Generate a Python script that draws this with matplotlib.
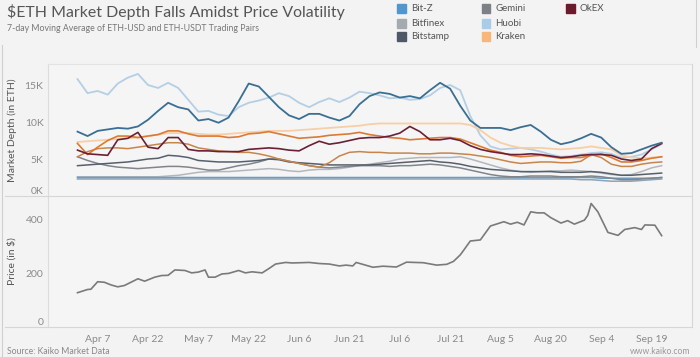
import matplotlib
matplotlib.use("Agg")
import matplotlib.pyplot as plt
import pandas as pd
from matplotlib.lines import Line2D
from matplotlib.patches import Rectangle

plt.rcParams["font.family"] = ["Lato", "DejaVu Sans"]

# ── data ─────────────────────────────────────────────────────────────────────
depth_dates = pd.date_range("2020-04-01", "2020-09-22", freq="3D")

huobi = [15.8, 13.9, 14.2, 13.7, 15.2, 16.0, 16.5, 15.0, 14.6, 15.3, 14.6, 13.0, 11.4, 11.5, 11.0,
         10.8, 12.0, 12.6, 12.9, 13.3, 13.9, 13.5, 12.6, 12.0, 12.7, 13.2, 12.7, 13.3, 14.1, 13.9,
         13.6, 13.2, 13.3, 13.0, 13.1, 13.6, 14.6, 15.0, 14.3, 10.8, 8.2, 6.7, 6.3, 6.4, 6.5,
         6.3, 6.0, 5.6, 5.3, 5.4, 5.6, 5.8, 5.9, 5.7, 5.2, 5.3, 5.6, 6.3, 7.0]
dark_blue = [8.7, 8.1, 8.8, 9.0, 9.2, 9.1, 9.4, 10.3, 11.5, 12.6, 12.0, 11.7, 10.2, 10.4, 9.9,
             10.6, 12.8, 15.2, 14.8, 13.4, 12.0, 10.9, 10.4, 11.1, 11.1, 10.6, 10.2, 10.8, 12.4, 13.5,
             14.0, 13.8, 13.3, 13.5, 13.2, 14.3, 15.3, 14.5, 12.2, 10.2, 9.2, 9.2, 9.2, 8.9, 9.3,
             9.6, 8.7, 7.6, 7.0, 7.3, 7.8, 8.4, 7.9, 6.6, 5.7, 5.8, 6.3, 6.8, 7.2]
kraken_light = [7.3, 7.4, 7.5, 7.6, 7.7, 7.8, 7.9, 8.1, 8.3, 8.5, 8.5, 8.5, 8.4, 8.3, 8.3,
                8.4, 8.5, 8.6, 8.7, 8.8, 8.8, 8.8, 8.9, 9.0, 9.1, 9.2, 9.3, 9.4, 9.5, 9.7,
                9.8, 9.8, 9.8, 9.8, 9.8, 9.8, 9.8, 9.8, 9.8, 9.6, 8.9, 7.9, 7.2, 6.8, 6.5,
                6.5, 6.5, 6.4, 6.3, 6.4, 6.5, 6.7, 6.5, 6.3, 5.5, 5.2, 5.1, 5.2, 5.3]
kraken = [7.1, 5.6, 6.6, 7.5, 8.1, 8.1, 7.9, 8.1, 8.3, 8.8, 8.8, 8.4, 8.1, 8.1, 8.1,
          7.9, 8.0, 8.4, 8.5, 8.7, 8.4, 8.1, 7.8, 7.9, 8.0, 8.2, 8.3, 8.4, 8.6, 8.3,
          8.1, 7.9, 7.8, 7.6, 7.7, 7.8, 7.9, 7.9, 7.7, 7.2, 6.7, 6.2, 5.9, 5.5, 5.3,
          5.4, 5.5, 5.3, 5.1, 5.2, 5.2, 5.5, 5.7, 5.2, 4.6, 4.6, 4.8, 5.1, 5.3]
okex = [6.2, 5.7, 5.6, 5.5, 7.6, 7.8, 8.6, 6.6, 6.4, 7.9, 7.9, 6.3, 6.1, 6.1, 6.0,
        6.0, 6.0, 6.3, 6.4, 6.5, 6.4, 6.2, 6.1, 6.8, 7.4, 7.0, 7.2, 7.5, 7.8, 7.9,
        7.9, 8.1, 8.5, 9.4, 8.7, 7.6, 7.6, 7.8, 7.5, 6.8, 6.3, 6.0, 5.8, 5.6, 5.6,
        5.7, 5.6, 5.4, 5.2, 5.3, 5.5, 5.6, 5.6, 5.5, 5.0, 4.8, 5.0, 6.4, 7.1]
kraken_usdt = [5.3, 6.0, 6.4, 6.5, 6.5, 6.4, 6.6, 6.8, 7.0, 7.2, 7.2, 7.0, 6.5, 6.3, 6.1,
               6.0, 5.9, 5.9, 5.7, 5.4, 5.0, 4.7, 4.4, 4.1, 3.9, 4.5, 5.4, 5.9, 6.0, 5.9,
               5.9, 5.8, 5.8, 5.8, 5.7, 5.7, 5.8, 5.8, 5.7, 5.6, 5.4, 5.2, 4.9, 4.6, 4.4,
               4.5, 4.6, 4.6, 4.5, 4.5, 4.7, 5.6, 5.2, 4.3, 4.0, 4.0, 4.3, 4.5, 4.6]
bitstamp = [4.1, 4.2, 4.3, 4.4, 4.5, 4.6, 4.8, 5.0, 5.1, 5.5, 5.4, 5.2, 4.8, 4.7, 4.6,
            4.6, 4.6, 4.7, 4.8, 5.0, 4.9, 4.6, 4.5, 4.4, 4.3, 4.2, 4.2, 4.2, 4.2, 4.2,
            4.3, 4.4, 4.5, 4.6, 4.7, 4.8, 4.6, 4.5, 4.3, 4.0, 3.8, 3.6, 3.5, 3.4, 3.3,
            3.3, 3.3, 3.3, 3.2, 3.2, 3.2, 3.3, 3.2, 3.0, 2.8, 2.8, 2.9, 3.0, 3.1]
gemini = [5.3, 4.8, 4.4, 4.1, 3.9, 3.8, 3.7, 3.8, 3.9, 4.0, 4.0, 3.9, 3.7, 3.5, 3.5,
          3.8, 4.1, 4.3, 4.6, 5.0, 5.0, 4.7, 4.4, 4.1, 3.9, 3.8, 3.9, 4.0, 4.1, 4.1,
          4.1, 4.0, 4.1, 4.1, 4.2, 4.3, 4.2, 4.0, 3.8, 3.5, 3.2, 2.9, 2.7, 2.6, 2.6,
          2.7, 2.7, 2.7, 2.6, 2.6, 2.6, 2.7, 2.6, 2.4, 2.2, 2.2, 2.3, 2.4, 2.5]
bitfinex = [2.6, 2.6, 2.6, 2.6, 2.6, 2.6, 2.6, 2.6, 2.6, 2.7, 2.8, 3.0, 3.2, 3.3, 3.3,
            3.3, 3.4, 3.5, 3.6, 3.7, 3.6, 3.4, 3.3, 3.5, 3.6, 3.6, 3.7, 3.9, 4.1, 4.3,
            4.5, 4.7, 5.0, 5.1, 5.2, 5.2, 5.2, 5.2, 5.3, 5.0, 4.6, 4.2, 3.8, 3.5, 3.3,
            3.2, 3.3, 3.4, 3.4, 3.5, 3.4, 3.3, 3.1, 2.9, 2.8, 2.9, 3.3, 3.8, 4.1]
bitz = [2.5, 2.5, 2.5, 2.5, 2.5, 2.5, 2.5, 2.5, 2.5, 2.5, 2.5, 2.5, 2.5, 2.5, 2.5,
        2.5, 2.5, 2.5, 2.5, 2.5, 2.5, 2.5, 2.5, 2.5, 2.5, 2.5, 2.5, 2.5, 2.5, 2.5,
        2.5, 2.5, 2.5, 2.5, 2.5, 2.5, 2.5, 2.5, 2.5, 2.5, 2.5, 2.5, 2.5, 2.5, 2.5,
        2.5, 2.5, 2.5, 2.5, 2.5, 2.5, 2.5, 2.4, 2.4, 2.4, 2.4, 2.4, 2.4, 2.5]
bitz_usdt = [2.3, 2.3, 2.3, 2.3, 2.3, 2.3, 2.3, 2.3, 2.3, 2.3, 2.3, 2.3, 2.3, 2.3, 2.3,
             2.3, 2.3, 2.3, 2.3, 2.3, 2.3, 2.3, 2.3, 2.3, 2.3, 2.3, 2.3, 2.3, 2.3, 2.3,
             2.3, 2.3, 2.3, 2.3, 2.3, 2.3, 2.3, 2.3, 2.3, 2.3, 2.3, 2.3, 2.3, 2.3, 2.3,
             2.3, 2.3, 2.3, 2.3, 2.3, 2.2, 2.2, 2.1, 2.0, 2.0, 2.0, 2.1, 2.2, 2.3]

# price, 7-day MA (day offset from Apr 1, USD)
price_day = [0, 3, 4, 6, 8, 10, 12, 14, 18, 20, 23, 25, 27, 29, 32, 34, 36, 38, 39, 41, 43, 45,
             48, 50, 52, 55, 57, 59, 62, 64, 69, 72, 75, 78, 80, 82, 83, 88, 91, 95, 98, 103,
             107, 110, 112, 114, 115, 117, 120, 123, 127, 129, 131, 133, 135, 137, 139, 141,
             144, 146, 148, 151, 152, 153, 155, 158, 161, 163, 166, 168, 169, 172, 174]
price = [128, 140, 141, 169, 167, 157, 150, 155, 180, 171, 186, 192, 193, 213, 211, 202, 205,
         213, 186, 186, 198, 200, 211, 202, 206, 202, 218, 235, 241, 239, 241, 237, 235, 228,
         231, 228, 241, 223, 227, 224, 242, 240, 231, 234, 245, 269, 286, 321, 325, 377, 393,
         384, 391, 381, 430, 426, 426, 408, 388, 397, 384, 399, 417, 461, 430, 353, 342, 364,
         371, 364, 381, 380, 341]

x_ticks = pd.date_range("2020-04-07", periods=12, freq="15D")

legend_names = ["Bit-Z", "Bitfinex", "Bitstamp", "Gemini", "Huobi", "Kraken", "OkEX"]
legend_colors = ["#4f97ce", "#a5aab0", "#4f5866", "#7d8187", "#a9cde9", "#f8b77a", "#6a1a2a"]

# ── figure ───────────────────────────────────────────────────────────────────
BG = "#f3f3f3"
fig = plt.figure(figsize=(7.0, 3.57), dpi=100, facecolor=BG)
W, H = 700, 357


def fx(px):
    return px / W


def fy(py):
    return 1 - py / H


ax1 = fig.add_axes([fx(47.7), fy(196), fx(692 - 47.7), (196 - 64) / H], facecolor="#f5f5f5")
ax2 = fig.add_axes([fx(47.7), fy(327), fx(692 - 47.7), (327 - 196) / H], facecolor="#f5f5f5",
                   sharex=ax1)

series = [
    (bitfinex, "#b3b7bc", 1.1),
    (bitz_usdt, "#8ea3b6", 1.1),
    (bitz, "#6a9cc4", 1.1),
    (gemini, "#80858c", 1.1),
    (bitstamp, "#56606c", 1.1),
    (huobi, "#b4cfe4", 1.3),
    (kraken_light, "#f7cfa6", 1.3),
    (kraken_usdt, "#c7854a", 1.1),
    (kraken, "#dc7a33", 1.2),
    (okex, "#6b2035", 1.2),
    (dark_blue, "#3a6f93", 1.3),
]
for vals, col, lw in series:
    ax1.plot(depth_dates, [v * 1000 for v in vals], color=col, lw=lw, solid_joinstyle="round")

price_dates = pd.Timestamp("2020-04-01") + pd.to_timedelta(price_day, unit="D")
ax2.plot(price_dates, price, color="#7a7a7a", lw=1.2)

ax1.set_xlim(pd.Timestamp("2020-03-23 03:00"), pd.Timestamp("2020-10-01 01:00"))
ax1.set_ylim(0, 17840)
ax2.set_ylim(0, 489)

ax1.set_yticks([0, 5000, 10000, 15000], ["0K", "5K", "10K", "15K"])
ax2.set_yticks([0, 200, 400], ["0", "200", "400"])
ax2.set_xticks(x_ticks, [f"{d:%b} {d.day}" for d in x_ticks])

for ax in (ax1, ax2):
    for s in ax.spines.values():
        s.set_visible(False)
    ax.spines["left"].set_visible(True)
    ax.spines["left"].set_color("#dcdcdc")
    ax.tick_params(length=0, labelsize=7.5, labelcolor="#8a8a8a", pad=3)
    ax.get_yticklabels()[0].set_verticalalignment("bottom")
    ax.yaxis.set_label_coords(-(47.7 - 17) / (692 - 47.7), 0.5)
ax1.tick_params(axis="x", labelbottom=False)
ax2.tick_params(axis="x", pad=6)
ax1.spines["top"].set_visible(True)
ax1.spines["top"].set_color("#e3e3e3")

ax1.set_ylabel("Market Depth (in ETH)", fontsize=7.5, color="#555555")
ax2.set_ylabel("Price (in $)", fontsize=7.5, color="#555555")

# separators that run across the label column, Tableau style
for py in (196, 327):
    fig.add_artist(Line2D([fx(5), fx(692)], [fy(py), fy(py)], color="#d6d6d6", lw=0.8))
fig.add_artist(Line2D([fx(692), fx(692)], [fy(64), fy(327)], color="#d6d6d6", lw=0.8))
fig.add_artist(Line2D([fx(2), fx(2)], [fy(45), fy(357)], color="#cfcfcf", lw=0.8))
fig.add_artist(Line2D([fx(695.5), fx(695.5)], [fy(0), fy(47)], color="#cfcfcf", lw=0.8))

# title block
fig.text(fx(7), fy(12), "$ETH Market Depth Falls Amidst Price Volatility", fontsize=11.4,
         color="#555555", va="center", ha="left")
fig.text(fx(7), fy(28.5), "7-day Moving Average of ETH-USD and ETH-USDT Trading Pairs",
         fontsize=6.3, color="#777777", va="center", ha="left")

# legend, three columns
col_x = [397.3, 481.7, 566.0]
row_y = [8.3, 23.3, 36.7]
for i, (name, col) in enumerate(zip(legend_names, legend_colors)):
    cx, ry = col_x[i // 3], row_y[i % 3]
    fig.add_artist(Rectangle((fx(cx), fy(ry + 4.3)), 8.7 / W, 8.7 / H, color=col,
                             transform=fig.transFigure))
    fig.text(fx(cx + 13.5), fy(ry), name, fontsize=7, color="#555555", va="center", ha="left")

# footer
fig.text(fx(7), fy(351.5), "Source: Kaiko Market Data", fontsize=6.2, color="#888888",
         va="center", ha="left")
fig.text(fx(690), fy(351.5), "www.kaiko.com", fontsize=6.2, color="#999999", va="center",
         ha="right")

fig.savefig("out.png", dpi=100, facecolor=BG)
